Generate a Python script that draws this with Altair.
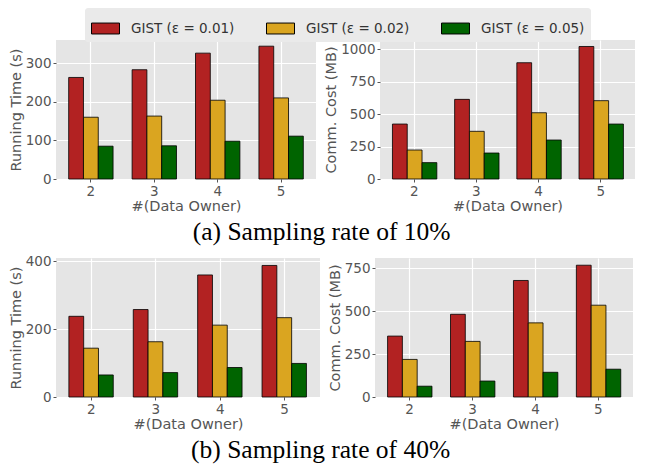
import altair as alt
import pandas as pd

owners = ["2", "3", "4", "5"]
methods = ["GIST (ε = 0.01)", "GIST (ε = 0.02)", "GIST (ε = 0.05)"]
colors = ["#B22222", "#DAA520", "#006400"]

# Sampling rate 10%
time_10 = {
    methods[0]: [263, 283, 326, 344],
    methods[1]: [160, 163, 204, 210],
    methods[2]: [85, 86, 98, 111],
}
comm_10 = {
    methods[0]: [423, 613, 895, 1020],
    methods[1]: [223, 367, 510, 603],
    methods[2]: [126, 200, 300, 423],
}
# Sampling rate 40%
time_40 = {
    methods[0]: [238, 258, 360, 388],
    methods[1]: [144, 163, 212, 234],
    methods[2]: [65, 72, 87, 99],
}
comm_40 = {
    methods[0]: [355, 482, 679, 768],
    methods[1]: [219, 324, 432, 535],
    methods[2]: [63, 93, 144, 162],
}

captions = ["(a) Sampling rate of 10%", "(b) Sampling rate of 40%"]


def to_df(d):
    rows = []
    for m in methods:
        for o, v in zip(owners, d[m]):
            rows.append({"owner": o, "method": m, "value": v})
    return pd.DataFrame(rows)


def panel(d, ytitle, ticks, ymax, w, h):
    return alt.Chart(to_df(d)).mark_bar(
        stroke="black", strokeWidth=1, strokeOpacity=0.8
    ).encode(
        x=alt.X("owner:N", sort=owners,
                scale=alt.Scale(paddingInner=0.3, paddingOuter=0.2),
                axis=alt.Axis(title="#(Data Owner)", labelAngle=0, bandPosition=0.5,
                              grid=True)),
        xOffset=alt.XOffset("method:N", sort=methods,
                            scale=alt.Scale(paddingInner=0, paddingOuter=0)),
        y=alt.Y("value:Q", scale=alt.Scale(domain=[0, ymax], nice=False),
                axis=alt.Axis(values=ticks, title=ytitle, format="d")),
        color=alt.Color("method:N", sort=methods,
                        scale=alt.Scale(domain=methods, range=colors),
                        legend=alt.Legend(
                            title=None, orient="none", direction="horizontal",
                            legendX=29, legendY=-32,
                            symbolType="M-1,-0.39L1,-0.39L1,0.39L-1,0.39Z",
                            symbolSize=784, symbolStrokeColor="black",
                            symbolStrokeWidth=1, symbolOpacity=1,
                            labelFont="DejaVu Sans", labelFontSize=13.5,
                            labelColor="#333333", labelOffset=11,
                            columnPadding=29, padding=6,
                            fillColor="#EAEAEA", cornerRadius=3)),
    ).properties(width=w, height=h)


def cap(text):
    return alt.TitleParams(text, orient="bottom", anchor="middle",
                           font="Liberation Serif", fontSize=25.5,
                           fontWeight="normal", color="black", offset=7)


row1 = alt.hconcat(
    panel(time_10, "Running Time (s)", [0, 100, 200, 300], 360, 260, 139),
    panel(comm_10, "Comm. Cost (MB)", [0, 250, 500, 750, 1000], 1070, 255, 139),
    spacing=7,
).properties(title=cap(captions[0]))

row2 = alt.hconcat(
    panel(time_40, "Running Time (s)", [0, 200, 400], 410, 264, 139),
    panel(comm_40, "Comm. Cost (MB)", [0, 250, 500, 750], 810, 258, 139),
    spacing=7,
).properties(title=cap(captions[1]))

chart = alt.vconcat(row1, row2, spacing=8).properties(
    padding=0
).configure_view(
    fill="#E5E5E5", stroke=None
).configure_axis(
    gridColor="white", gridWidth=1.2, domain=False,
    tickColor="#555555", tickSize=3, labelPadding=2,
    labelColor="#555555", titleColor="#555555",
    labelFont="DejaVu Sans", titleFont="DejaVu Sans",
    labelFontSize=13.5, titleFontSize=14.5, titleFontWeight="normal",
    titlePadding=2,
).configure_axisY(
    titlePadding=2,
)

chart.save("out.html", embed_options={"renderer": "svg", "actions": False})
